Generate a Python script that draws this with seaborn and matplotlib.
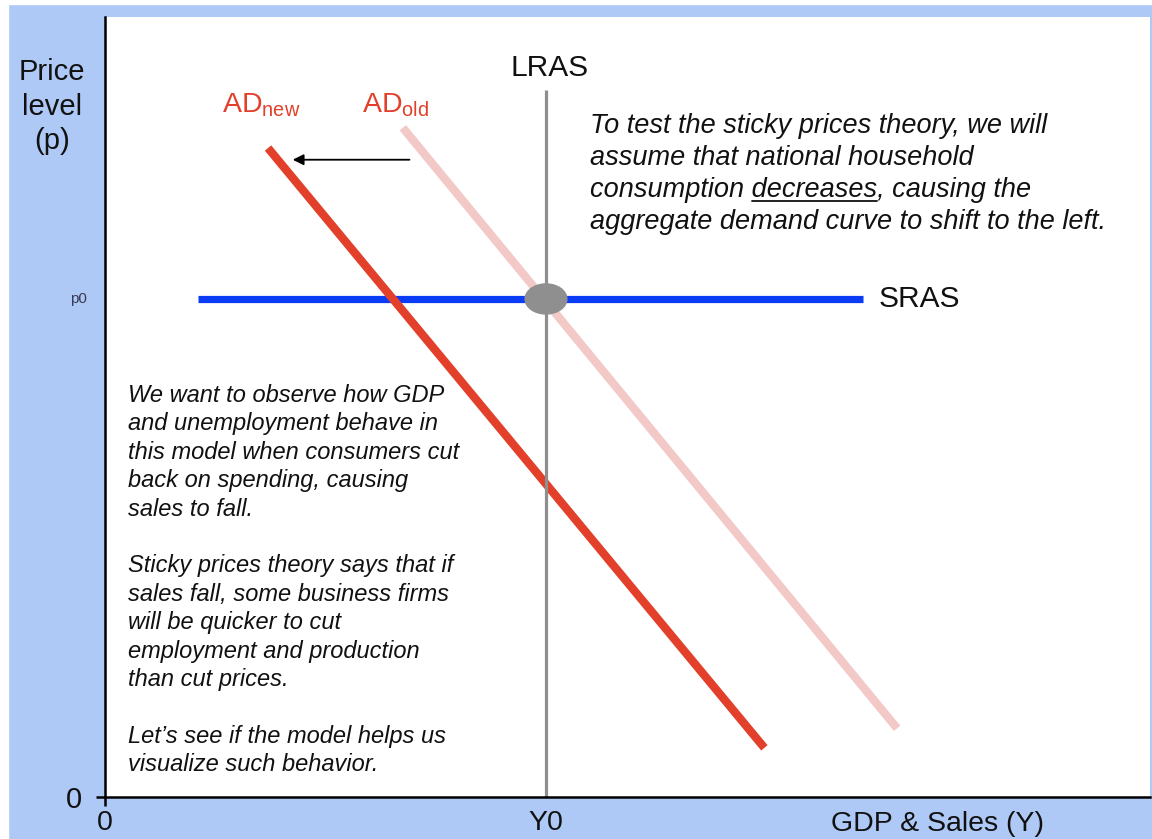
import matplotlib
matplotlib.use("Agg")
import matplotlib.pyplot as plt
from matplotlib.patches import Ellipse, Rectangle
from matplotlib.lines import Line2D
import seaborn as sns

# chart units: x = GDP & sales (0..10), y = price level (0..10)
ad_new_x = [1.56, 6.31]
ad_new_y = [8.32, 0.63]
ad_old_x = [2.85, 7.58]
ad_old_y = [8.58, 0.88]
sras_x = [0.89, 7.25]
p0 = 6.385
y0 = 4.22
lras_top = 9.06
shift_x = [2.94, 1.77]
shift_y = 8.17

note_top = [
    "To test the sticky prices theory, we will",
    "assume that national household",
    "consumption decreases, causing the",
    "aggregate demand curve to shift to the left.",
]
note_left = [
    "We want to observe how GDP",
    "and unemployment behave in",
    "this model when consumers cut",
    "back on spending, causing",
    "sales to fall.",
    "",
    "Sticky prices theory says that if",
    "sales fall, some business firms",
    "will be quicker to cut",
    "employment and production",
    "than cut prices.",
    "",
    "Let\u2019s see if the model helps us",
    "visualize such behavior.",
]

bg = "#aec9f6"
red = "#e2402a"
pink = "#f3c9c7"
blue = "#0a3cf5"
gray = "#8f8f8f"

sns.set_theme(style="white")
plt.rcParams["font.family"] = ["Liberation Sans", "DejaVu Sans"]
plt.rcParams["mathtext.default"] = "regular"

fig = plt.figure(figsize=(11.52, 8.39), dpi=100, facecolor=bg)
fig.patches.append(Rectangle((0, 0.9952), 1, 0.0048, transform=fig.transFigure, color="white", zorder=0))
fig.patches.append(Rectangle((0, 0), 0.007, 1, transform=fig.transFigure, color="white", zorder=0))
ax = fig.add_axes([0.09115, 0.05006, 0.9071, 0.9297])
ax.set_facecolor("white")

kw = dict(estimator=None, sort=False, ax=ax, legend=False)
sns.lineplot(x=ad_old_x, y=ad_old_y, color=pink, linewidth=6, solid_capstyle="butt", **kw)
sns.lineplot(x=sras_x, y=[p0, p0], color=blue, linewidth=5.2, solid_capstyle="butt", **kw)
sns.lineplot(x=ad_new_x, y=ad_new_y, color=red, linewidth=6, solid_capstyle="butt", **kw)
sns.lineplot(x=[y0, y0], y=[0, lras_top], color=gray, linewidth=2.3, solid_capstyle="butt", **kw)
ax.add_patch(Ellipse((y0, p0), width=0.40, height=0.385, color=gray, zorder=5))

ax.annotate("", xy=(shift_x[1], shift_y), xytext=(shift_x[0], shift_y),
            arrowprops=dict(arrowstyle="-|>", color="black", lw=1.3, mutation_scale=16))

ax.set_xlim(0, 10)
ax.set_ylim(0, 10)
for side in ["top", "right"]:
    ax.spines[side].set_visible(False)
for side in ["left", "bottom"]:
    ax.spines[side].set_color("black")
    ax.spines[side].set_linewidth(1.8)

ax.set_xticks([0, y0], ["0", "Y0"])
ax.set_yticks([0], ["0"])
ax.tick_params(bottom=True, left=True, direction="out", length=6.5, width=1.8,
               color="black", labelcolor="#111111")
ax.tick_params(axis="x", pad=3, labelsize=20.5)
ax.tick_params(axis="y", pad=10, labelsize=21)
ax.xaxis.get_major_ticks()[1].tick1line.set_visible(False)

ax.set_xlabel("GDP & Sales (Y)", fontsize=20.5, color="#111111", va="center")
ax.xaxis.set_label_coords(0.797, -0.034)
ax.set_ylabel("Price\nlevel\n(p)", fontsize=21, color="#111111", rotation=0,
              ha="center", va="center", linespacing=1.3)
ax.yaxis.set_label_coords(-0.0507, 0.885)

ax.text(-0.017, p0, "p0", transform=ax.get_yaxis_transform(), ha="right", va="center",
        fontsize=11, color="#3a3a55")
ax.text(4.25, 9.35, "LRAS", fontsize=21.5, ha="center", va="center", color="#111111")
ax.text(7.40, p0, "SRAS", fontsize=21.5, ha="left", va="center", color="#111111")
ax.text(1.12, 8.77, r"AD$_{new}$", fontsize=20.5, ha="left", va="baseline", color=red)
ax.text(2.46, 8.77, r"AD$_{old}$", fontsize=20.5, ha="left", va="baseline", color=red)

top_x, top_y, top_step = 4.64, 8.513, 0.41
for i, line in enumerate(note_top):
    ax.text(top_x, top_y - i * top_step, line, fontsize=19.5, style="italic",
            ha="left", va="baseline", color="#111111")

left_x, left_y, left_step = 0.22, 5.064, 0.364
for i, line in enumerate(note_left):
    ax.text(left_x, left_y - i * left_step, line, fontsize=17, style="italic",
            ha="left", va="baseline", color="#111111")

# underline "decreases" in the third line of the top note
fig.canvas.draw()
renderer = fig.canvas.get_renderer()
def text_width(s):
    t = ax.text(0, 0, s, fontsize=19.5, style="italic")
    w = t.get_window_extent(renderer).width
    t.remove()
    return w
x_start, base = ax.transData.transform((top_x, top_y - 2 * top_step))
w_full = text_width("consumption decreases")
w_word = text_width("decreases")
u0 = x_start + w_full - w_word
u1 = x_start + w_full
uy = base - 4
inv = fig.transFigure.inverted()
(a, b), (c, d) = inv.transform([(u0, uy), (u1, uy)])
fig.add_artist(Line2D([a, c], [b, d], color="#111111", linewidth=1.3))

fig.savefig("out.png", dpi=100, facecolor=bg)
